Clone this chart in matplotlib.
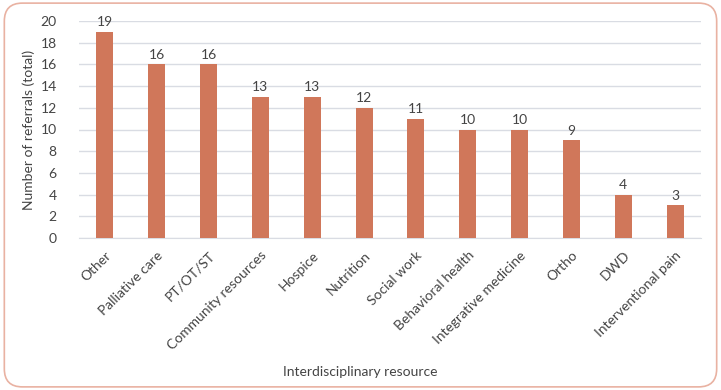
import matplotlib
matplotlib.use('Agg')
import matplotlib.pyplot as plt
from matplotlib.patches import FancyBboxPatch

categories = ['Other', 'Palliative care', 'PT/OT/ST', 'Community resources', 'Hospice',
              'Nutrition', 'Social work', 'Behavioral health', 'Integrative medicine',
              'Ortho', 'DWD', 'Interventional pain']
referrals = [19, 16, 16, 13, 13, 12, 11, 10, 10, 9, 4, 3]
y_ticks = list(range(0, 21, 2))

bar_color = '#d0775a'
text_color = '#444444'
grid_color = '#d9dce3'

plt.rcParams['font.family'] = ['Lato', 'DejaVu Sans']

fig = plt.figure(figsize=(7.21, 3.90), dpi=100)
# rounded frame around the figure
frame = FancyBboxPatch((0.006, 0.008), 0.988, 0.984, boxstyle='round,pad=0,rounding_size=0.025',
                       transform=fig.transFigure, facecolor='none', edgecolor='#e9b2a2',
                       linewidth=1.2, mutation_aspect=721 / 390, zorder=-1)
fig.patches.append(frame)

ax = fig.add_axes([79 / 721, 1 - 238 / 390, 622 / 721, 217 / 390])
ax.patch.set_alpha(0)
x = range(len(categories))
bars = ax.bar(x, referrals, width=0.33, color=bar_color, zorder=3)
for xi, v in zip(x, referrals):
    ax.text(xi, v + 0.35, str(v), ha='center', va='bottom', fontsize=10, color=text_color)

ax.set_xlim(-0.5, len(categories) - 0.5)
ax.set_ylim(0, 20)
ax.set_yticks(y_ticks)
ax.yaxis.grid(True, color=grid_color, linewidth=1, zorder=0)
ax.set_axisbelow(True)
for s in ['top', 'right', 'left']:
    ax.spines[s].set_visible(False)
ax.spines['bottom'].set_color(grid_color)
ax.tick_params(axis='both', length=0, colors=text_color, labelsize=10)
ax.tick_params(axis='y', pad=16)
ax.set_xticks(list(x))
ax.set_xticklabels(categories, rotation=45, ha='right', rotation_mode='anchor')
ax.tick_params(axis='x', pad=8)
ax.set_ylabel('Number of referrals (total)', fontsize=10, color=text_color, labelpad=4)
fig.text(360 / 721, 1 - 372 / 390, 'Interdisciplinary resource', ha='center', va='center',
         fontsize=10, color=text_color)

fig.savefig('out.png', dpi=100)
